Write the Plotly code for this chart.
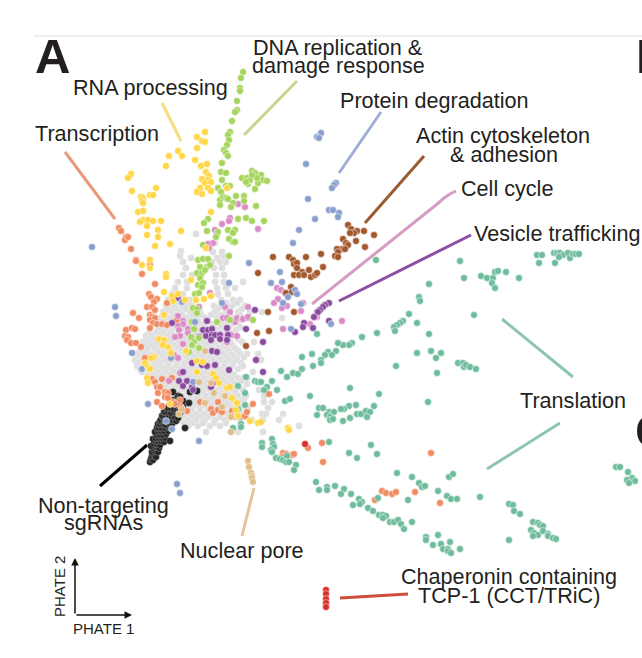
import plotly.graph_objects as go

gray_rows = {
 234:[196],243:[215],235:[217],251:[181],256:[180,223],252:[213,222],258:[191,217],
 262:[183,212,220,226],268:[186,214,222],275:[183,192,216,224],282:[178,187,215,224,243],
 288:[175,187,217,226,235],294:[172,183,218,228],300:[168,190,221,233,240],
 303:[170,178,187,226,237],
 306:[166,174,183,192,214,222,232,245],309:[168,177,186,195,218,228,242],
 312:[163,172,180,190,200,215,226,238,250,262],315:[165,174,182,192,201,211,221,230,240],
 318:[161,170,178,186,196,205,217,224,234,244,282],321:[164,172,180,189,198,208,218,228,238],
 324:[160,168,175,184,193,201,212,222,232],327:[162,170,178,187,195,204,213,221,229,240],
 330:[158,165,172,181,190,198,207,216,225,236],333:[149,156,163,171,179,187,195,204,212,221,230],
 336:[146,152,160,168,176,184,192,201,210,219,226,235],339:[147,154,162,170,178,186,194,202,211,220,228,238],
 342:[143,150,157,165,172,180,188,196,204,213,222,230,242,254],345:[145,152,160,167,175,183,191,199,207,216,224,232],
 348:[142,148,155,163,170,178,186,194,202,210,218,226,235],351:[140,147,158,165,173,181,189,197,205,213,221,229,238],
 354:[137,145,152,160,167,175,183,191,199,207,215,223,231,240,247,258],357:[139,147,155,163,170,178,186,194,202,210,218,226,234,244],
 360:[135,142,150,157,165,172,180,188,196,205,213,221,229,237,261],363:[138,146,154,161,169,177,185,193,201,209,217,225,233,241],
 366:[137,145,153,160,168,176,184,192,200,208,216,224,232,243],369:[140,148,156,164,172,180,188,196,204,212,220,228,238],
 372:[142,150,158,166,174,182,190,198,206,214,222,230,253],375:[148,154,162,170,178,186,194,202,210,218,226,234],
 378:[157,165,173,181,189,197,205,213,221,229,238,243,247],381:[160,168,176,184,192,200,208,216,224,232,241],
 384:[163,171,179,187,195,203,211,219,227,235,247],387:[167,175,183,191,199,207,215,223,231,239],
 390:[170,178,186,194,202,210,218,226,234,243,259],393:[172,180,188,196,204,212,220,228,236],
 396:[174,182,190,198,206,214,222,230,238,246,264],399:[176,180,188,196,204,212,220,228,236,244],
 402:[176,184,192,200,208,216,224,232,240,264,272],405:[180,188,196,204,212,220,228,236,244],
 408:[176,184,192,200,208,216,224,232,240,248,268],411:[184,192,200,208,216,224,232,240],
 414:[180,188,196,204,212,220,228,236,262,266,283],417:[184,192,200,208,220,232,246],
 420:[180,188,196,205,215,225,240,263,279,252],423:[184,192,203,214,226],
 426:[188,198,210,220,299],432:[206,231,238,263],
}
gray_x = [x for y, xs in gray_rows.items() for x in xs]
gray_y = [y for y, xs in gray_rows.items() for x in xs]

black_pts = [(150,462),(151,459),(153,460),(152,456),(154,455),(156,457),(152,452),(155,451),(158,452),(153,448),(156,447),(159,448),(151,446),(154,444),(157,444),(160,445),(155,441),(158,441),(161,441),(164,442),(153,439),(156,438),(159,438),(162,438),(165,438),(157,435),(160,435),(163,435),(166,434),(155,432),(158,431),(161,431),(164,431),(168,431),(157,428),(159,428),(162,428),(165,428),(168,427),(171,428),(158,424),(160,424),(163,424),(166,425),(169,424),(172,424),(160,421),(161,420),(164,420),(167,421),(170,420),(173,420),(176,421),(162,416),(163,416),(166,416),(169,417),(172,416),(175,417),(178,418),(164,412),(165,412),(168,412),(171,413),(174,412),(177,413),(180,413),(167,408),(168,408),(171,408),(174,409),(177,408),(180,409),(170,404),(171,404),(174,404),(177,405),(180,405),(183,406),(174,400),(177,400),(180,402),(183,401),(178,396),(180,397),(173,392),(189,403),(190,392),(197,391),(185,428),(170,441)]

dna_pts = [(243,72),(241,78),(240,88),(240,91),(237,101),(237,110),(235,112),(232,121),(230,132),(228,135),(229,140),(227,145),(224,150),(226,153),(228,156),(222,163),(221,172),(226,173),(222,180),(226,186),(230,186),(218,188),(221,192),
(242,178),(247,178),(252,171),(255,173),(261,175),(263,180),(267,181),(258,183),(255,189),(248,184),(250,180),(257,178),(252,175),(246,182),
(220,200),(223,197),(226,198),(228,199),(236,196),(244,196),(244,201),(233,203),(231,207),(256,206),(220,205),(246,218),(252,221),(264,221),(238,219),(208,219),(204,223),(207,231),(218,232),(216,237),(228,230),(235,230),(233,233),(229,239),(233,242),(235,242),(229,256),(203,245),(198,260),(203,259),(208,259),(200,267),(207,267),(210,265),(197,273),(202,273),(205,270),(200,278),(198,285),(203,283),(202,287),(195,294),(199,293),(193,308),(197,309),(197,313),(192,322),(217,322),(194,329),(191,337),(194,342),(199,338),(192,345),(199,348),(189,352),(230,320),(253,320)]

rna_pts = [(205,132),(197,137),(202,141),(205,142),(197,148),(178,151),(182,156),(169,156),(195,160),(166,166),(201,166),(207,164),(206,172),(131,174),(128,178),(202,179),(209,176),(208,180),(205,183),(211,182),(200,188),(208,188),(197,192),(202,194),(211,191),(132,191),(156,188),(150,195),(153,195),(141,197),(143,198),(142,201),(143,203),(138,212),(143,211),(211,212),(143,220),(140,222),(148,220),(153,221),(147,226),(161,221),(158,230),(147,235),(158,237),(181,231),(155,246),(170,244),(227,188),(206,248),(150,260),
(142,265),(150,268),(166,274),(166,277),(191,280),(164,292),(172,296),(178,294),(173,301),(185,300),(196,300),(204,299),(211,296),(164,315),(159,339),(164,340),(168,347),(163,345),(186,351),(171,353),(154,357),(151,358),(145,363),(148,367),(150,369),(197,361),(203,362),(197,372),(213,374),(216,378),(147,378),(148,383),(219,383),(227,388),(230,387),(232,398),(237,403),(170,404),(236,410),(238,416),(250,421),(258,423),(261,422),(288,428),(289,430)]

transcription_pts = [(119,228),(121,231),(126,237),(125,240),(128,237),(131,249),(136,260),(136,261),(150,265),(142,274),(155,284),(149,294),(151,297),(157,299),(154,302),(167,303),(147,307),(152,307),(155,310),(133,313),(150,315),(139,318),(152,317),(150,320),(155,318),(153,323),(157,324),(162,324),(167,325),(150,328),(177,320),(126,330),(132,328),(135,329),(125,336),(128,337),(127,340),(131,343),(136,343),(141,347),(145,358),(152,379),(155,382),(162,379),(172,378),(157,387),(160,387),(158,393),(165,392),(168,393),(173,402),(165,397),(168,398),(157,402),(162,406),(180,400),(175,404),(200,402),(205,403),(211,409),(213,413),(218,402),(218,410),(222,412),(232,411),(232,416),(240,417),(245,416),(247,412),(253,404),(269,394),(187,411),(181,407),(283,453),(286,454),(292,455),(285,458),(282,457),(308,448),(322,443),(323,462),(294,454),(382,491),(386,493),(392,494),(396,492),(375,500),(415,492),(431,453),(440,503)]

cellcycle_pts = [(238,204),(245,207),(230,218),(229,221),(222,224),(258,229),(215,230),(217,233),(213,243),(208,244),(209,248),(199,307),(225,307),(248,307),(230,312),(223,318),(227,318),(235,322),(237,318),(242,319),(248,318),(178,316),(183,321),(183,324),(178,326),(179,330),(188,329),(180,336),(188,333),(175,337),(183,344),(174,355),(178,358),(228,333),(231,335),(237,336),(227,342),(283,329),(277,288),(281,290),(285,293),(278,299),(274,303),(287,306),(282,308),(303,303),(301,311),(317,312),(317,317),(315,317),(310,324),(342,321),(169,381),(180,373),(210,293),(243,319),(248,317)]

vesicle_pts = [(329,303),(325,305),(323,307),(320,310),(318,312),(314,317),(304,323),(303,327),(313,328),(329,321),(295,332),(255,310),(246,329),(263,342),(256,360),(263,372),(172,323),(178,298),(207,321),(203,330),(208,330),(212,329),(227,328),(199,337),(206,336),(212,335),(215,335),(220,335),(228,335),(211,340),(220,339),(227,340),(212,351),(217,352),(192,363),(202,365),(207,366),(215,365),(229,370),(183,372),(179,381),(187,381),(183,386),(192,387),(193,390),(214,382),(211,387)]

actin_pts = [(348,225),(351,229),(357,231),(354,233),(350,233),(364,231),(374,235),(356,241),(365,247),(343,239),(346,243),(348,245),(342,249),(345,249),(337,249),(338,252),(335,256),(338,257),(321,254),(306,257),(289,257),(273,257),(293,260),(294,264),(297,263),(297,268),(302,272),(294,275),(299,275),(304,275),(309,270),(311,277),(315,275),(317,273),(323,267),(258,273),(291,287),(286,293),(292,292),(268,312),(294,312),(257,333),(269,331),(246,346)]

protein_pts = [(321,133),(317,137),(319,138),(306,164),(336,183),(334,185),(332,188),(308,199),(329,210),(333,210),(339,213),(338,217),(315,219),(299,230),(293,243),(249,263),(280,272),(271,283),(282,282),(295,290),(297,294),(288,297),(283,303),(301,304),(331,324),(291,329),(229,283),(222,303),(182,302),(115,307),(116,316),(132,353),(142,369),(171,358),(193,382),(148,404),(166,421),(172,429),(199,441),(177,484),(180,493),(92,247),(195,322)]

translation_pts = [(376,260),(429,284),(419,297),(420,301),(409,314),(417,323),(429,334),(403,321),(400,323),(397,325),(394,327),(395,331),(377,333),(362,337),(352,343),(349,345),(343,345),(338,343),(336,351),(328,352),(325,355),(332,355),(312,354),(302,357),(321,360),(321,363),(317,334),(417,353),(431,351),(441,353),(436,358),(437,373),(396,366),(313,366),(302,369),(293,373),(298,374),(287,377),(281,371),(246,377),(255,381),(258,382),(261,382),(272,381),(238,386),(267,387),(264,390),(277,390),(245,393),(285,401),(290,399),(310,396),(350,388),(379,394),(428,402),(356,405),(349,406),(344,409),(341,409),(319,408),(323,408),(329,412),(334,412),(317,415),(327,415),(330,417),(330,420),(333,419),(343,421),(350,418),(357,414),(361,414),(366,411),(370,412),(367,417),(374,406),(245,405),(238,409),(241,424),(241,427),(233,428),(262,443),(262,447),(272,439),(273,444),(274,447),(329,442),(271,450),(272,452),(276,458),(280,459),(283,460),(287,456),(286,462),(289,462),(296,465),(294,470),(371,445),(349,453),(357,458),(377,454),(397,473),(412,477),(419,483),(422,487),(425,486),(378,498),(408,500),(316,482),(319,490),(327,487),(327,490),(335,486),(344,489),(341,494),(351,494),(359,499),(362,502),(360,504),(353,505),(368,508),(373,511),(379,515),(383,515),(386,516),(383,518),(390,522),(394,522),(398,520),(401,524),(404,529),(412,522),(426,537),(426,540),
(460,261),(464,278),(481,276),(487,278),(493,278),(495,272),(498,271),(506,272),(519,278),(492,283),(495,288),(537,255),(542,255),(539,263),(555,263),(554,253),(557,253),(560,253),(563,255),(559,257),(568,253),(570,258),(573,254),(576,254),(579,254),(474,315),(458,363),(463,363),(464,367),(466,365),(470,367),(476,369),(616,467),(620,467),(628,472),(632,478),(627,480),(635,481),(629,483),(449,477),(453,474),(438,491),(447,496),(451,499),(457,499),(480,497),(509,504),(513,505),(514,511),(520,514),(533,522),(538,523),(540,525),(543,526),(531,530),(534,533),(538,535),(533,536),(543,531),(548,534),(548,536),(553,538),(556,539),(509,540),(438,535),(433,545),(441,544),(450,542),(443,549),(448,549),(448,551),(451,553),(460,549)]

cct_pts = [(305,444),(326,590),(326,594),(326,599),(326,603),(326,607)]

pore_pts = [(248,461),(249,467),(251,473),(252,476),(252,478),(253,482),(205,351),(211,383),(199,382),(214,393),(225,396),(179,414),(182,409),(205,403),(222,407),(231,432),(235,417),(231,417)]

# (name, points, fill colour) in drawing order
series = [
 ("Other", list(zip(gray_x, gray_y)), "#dedede"),
 ("Non-targeting sgRNAs", black_pts, "#262626"),
 ("Transcription", transcription_pts, "#f08c62"),
 ("Cell cycle", cellcycle_pts, "#d98cc6"),
 ("Vesicle trafficking", vesicle_pts, "#8a4a9f"),
 ("DNA replication & damage response", dna_pts, "#a6d55e"),
 ("Translation", translation_pts, "#6fbc9c"),
 ("Actin cytoskeleton & adhesion", actin_pts, "#a1582c"),
 ("Protein degradation", protein_pts, "#8a9fcd"),
 ("Nuclear pore", pore_pts, "#e0bd8a"),
 ("RNA processing", rna_pts, "#ffd645"),
 ("CCT/TRiC", cct_pts, "#d7302a"),
]

labels = [
 ("DNA replication &",338,47),("damage response",338,65),("RNA processing",150,87),
 ("Transcription",97,133),("Protein degradation",434,100),("Actin cytoskeleton",503,135),
 ("& adhesion",504,154),("Cell cycle",507,188),("Vesicle trafficking",557,233),
 ("Translation",573,400),("Non-targeting",103,505),("sgRNAs",103,522),
 ("Nuclear pore",242,550),("Chaperonin containing",509,576),("TCP-1 (CCT/TRiC)",509,595),
]

leaders = [
 ([65,115],[152,219],"#e89b7a",3),
 ([162,181],[103,141],"#f8dc80",3),
 ([297,244],[81,135],"#c6d68f",3),
 ([381,339],[112,173],"#9fafd6",3),
 ([424,365],[156,223],"#9c5a30",3),
 ([456,450,444,436,312],[191,194,198,205,304],"#d69cc4",3),
 ([471,339],[235,301],"#8d50a3",3),
 ([502,573],[319,377],"#8dc5ad",3),
 ([560,487],[423,469],"#8dc5ad",3),
 ([147,100],[445,486],"#000000",3),
 ([254,242],[488,536],"#e2c698",3),
 ([340,408],[598,594],"#cf4b3b",3),
]

fig = go.Figure()
for x, y, c, w in leaders:
    fig.add_trace(go.Scatter(x=x, y=y, mode="lines", line=dict(color=c, width=w), hoverinfo="skip", showlegend=False))
for name, pts, col in series:
    outline = "rgba(255,255,255,0.45)" if name == "Non-targeting sgRNAs" else ("rgba(255,255,255,0.5)" if name == "Other" else "white")
    fig.add_trace(go.Scatter(x=[p[0] for p in pts], y=[p[1] for p in pts], mode="markers", name=name,
        marker=dict(size=6.9, color=col, line=dict(color=outline, width=0.5)), showlegend=False))
# top rule
fig.add_trace(go.Scatter(x=[34,642], y=[36,36], mode="lines", line=dict(color="#dedede", width=1), hoverinfo="skip", showlegend=False))

ann = []
for t, x, y in labels:
    ann.append(dict(x=x, y=y, text=t, showarrow=False, xanchor="center", yanchor="middle",
        font=dict(family="Liberation Sans", size=21.6, color="#231f20")))
for letter, x, y in [("A",33,56),("B",633.5,56),("C",632.7,431)]:
    ann.append(dict(x=x, y=y, text="<b>%s</b>" % letter, showarrow=False, xanchor="left", yanchor="middle",
        font=dict(family="Liberation Sans", size=49, color="#231f20")))
ann.append(dict(x=103, y=628, text="PHATE 1", showarrow=False, font=dict(family="Liberation Sans", size=15, color="#231f20")))
ann.append(dict(x=59, y=587, text="PHATE 2", textangle=-90, showarrow=False, font=dict(family="Liberation Sans", size=15, color="#231f20")))
for ax, ay, x, y in [(75,615,75,558),(75,615,132,615)]:
    ann.append(dict(x=x, y=y, ax=ax, ay=ay, xref="x", yref="y", axref="x", ayref="y", text="", showarrow=True,
        arrowhead=2, arrowsize=1, arrowwidth=1.5, arrowcolor="#111111"))

fig.update_layout(width=642, height=658, margin=dict(l=0,r=0,t=0,b=0), paper_bgcolor="white", plot_bgcolor="white",
    annotations=ann, hovermode="closest",
    xaxis=dict(range=[0,642], visible=False, fixedrange=True),
    yaxis=dict(range=[658,0], visible=False, fixedrange=True))
fig.write_html("out.html", config=dict(displayModeBar=False),
    post_script="document.body.style.margin='0';document.body.style.overflow='hidden';")
